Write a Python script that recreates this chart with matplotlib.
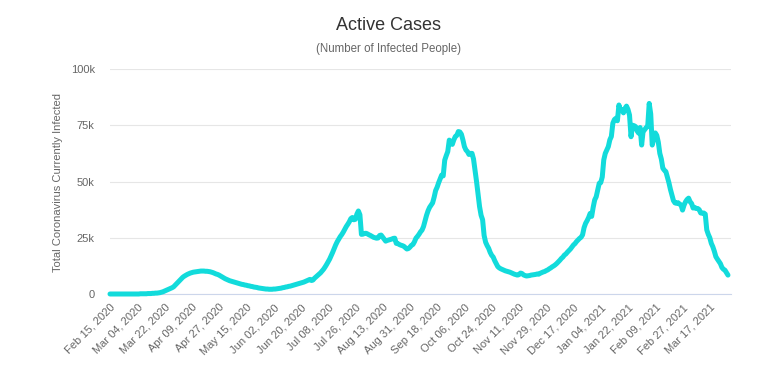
import numpy as np
import pandas as pd
import matplotlib
matplotlib.use("Agg")
import matplotlib.pyplot as plt
from matplotlib.ticker import FuncFormatter, FixedLocator

plt.rcParams['font.family'] = ['Liberation Sans', 'DejaVu Sans']

start_date = "2020-02-15"
tick_step = 18

# Active cases in thousands, one value per day from Feb 15, 2020
active_k = [
    # d0-19
    0.0, 0.0, 0.0, 0.0, 0.0, 0.0, 0.0, 0.0, 0.0, 0.0,
    0.0, 0.0, 0.0, 0.0, 0.0, 0.0, 0.0, 0.0, 0.0, 0.0,
    # d20-32
    0.1, 0.1, 0.1, 0.1, 0.1, 0.2, 0.2, 0.2, 0.3, 0.3, 0.4, 0.4, 0.5,
    # d33-65
    0.6, 0.8, 1.0, 1.3, 1.6, 1.9, 2.2, 2.5, 2.8, 3.2,
    3.9, 4.6, 5.3, 6.0, 6.7, 7.4, 7.9, 8.3, 8.7, 9.0,
    9.3, 9.5, 9.7, 9.8, 9.9, 10.0, 10.1, 10.2, 10.2, 10.2,
    10.1, 10.1, 10.0,
    # d66-104
    9.9, 9.7, 9.5, 9.2, 8.9, 8.7, 8.4, 8.0, 7.6, 7.2,
    6.8, 6.5, 6.2, 5.9, 5.7, 5.5, 5.3, 5.1, 4.9, 4.7,
    4.5, 4.3, 4.2, 4.0, 3.9, 3.7, 3.6, 3.4, 3.3, 3.1,
    3.0, 2.9, 2.7, 2.6, 2.5, 2.4, 2.3, 2.2, 2.2,
    # d105-166
    2.1, 2.1, 2.1, 2.2, 2.2, 2.3, 2.4, 2.5, 2.6, 2.8,
    2.9, 3.1, 3.2, 3.4, 3.5, 3.7, 3.9, 4.1, 4.3, 4.5,
    4.7, 4.9, 5.1, 5.3, 5.6, 5.9, 6.2, 6.5, 6.0, 6.2,
    7.0, 7.6, 8.2, 8.8, 9.4, 10.2, 11.0, 12.0, 13.1, 14.3,
    15.5, 17.0, 18.5, 20.2, 21.8, 23.2, 24.4, 25.5, 26.4, 27.5,
    28.8, 30.0, 31.0, 32.1, 33.5, 34.0, 33.0, 33.2, 35.5, 36.9,
    35.2, 26.5,
    # d167-253
    26.6, 26.9, 27.0, 26.7, 26.3, 26.0, 25.6, 25.2, 25.0, 24.8,
    24.9, 26.0, 26.2, 25.3, 24.4, 23.5, 23.8, 24.0, 24.2, 24.4,
    24.7, 24.8, 22.5, 22.4, 22.0, 21.7, 21.5, 21.2, 20.6, 20.0,
    20.2, 20.8, 21.6, 22.0, 23.2, 24.8, 25.6, 26.5, 27.6, 28.4,
    30.0, 32.5, 35.0, 37.0, 38.5, 39.5, 40.5, 43.0, 46.0, 47.5,
    49.5, 51.2, 52.9, 52.5, 59.5, 61.5, 63.3, 68.4, 67.5, 66.5,
    68.5, 70.0, 70.5, 72.2, 72.0, 71.0, 68.5, 65.5, 64.0, 63.3,
    62.0, 62.5, 62.5, 60.0, 55.0, 50.0, 44.5, 38.8, 35.0, 33.0,
    26.0, 23.0, 21.5, 20.3, 18.5, 17.2, 16.4,
    # d254-320
    14.8, 13.5, 12.2, 11.6, 11.2, 10.9, 10.6, 10.3, 10.1, 9.9,
    9.7, 9.4, 9.1, 8.8, 8.6, 8.4, 8.6, 9.3, 9.1, 8.5,
    8.2, 8.0, 8.1, 8.2, 8.4, 8.5, 8.6, 8.7, 8.9, 8.8,
    9.2, 9.5, 9.8, 10.0, 10.4, 10.7, 11.2, 11.6, 12.1, 12.5,
    13.0, 13.6, 14.3, 15.0, 15.8, 16.4, 17.3, 17.8, 18.6, 19.3,
    20.0, 20.9, 21.8, 22.4, 23.3, 24.0, 24.7, 25.2, 26.3, 29.5,
    31.4, 32.6, 34.0, 35.8, 34.5, 38.5, 41.8,
    # d321-408
    43.2, 46.2, 49.2, 49.5, 52.0, 59.6, 62.5, 64.0, 65.5, 68.5,
    70.0, 75.9, 77.5, 78.1, 77.0, 84.0, 81.5, 82.0, 80.5, 82.5,
    83.5, 82.0, 79.5, 69.9, 75.0, 74.8, 74.4, 72.5, 71.5, 74.0,
    66.2, 72.5, 73.0, 74.0, 74.4, 84.7, 80.0, 66.2, 69.0, 71.6,
    70.5, 67.5, 62.5, 60.0, 55.9, 55.0, 54.4, 52.0, 49.5, 46.5,
    44.0, 41.5, 40.5, 40.3, 40.6, 40.0, 39.6, 37.3, 39.5, 41.0,
    42.0, 42.6, 41.0, 40.2, 38.2, 38.5, 38.0, 38.0, 37.5, 36.0,
    35.9, 36.0, 35.5, 28.5, 26.5, 25.0, 22.5, 21.0, 19.0, 16.6,
    15.5, 14.5, 13.5, 11.8, 11.0, 10.6, 9.5, 8.4,
]
print("n points:", len(active_k))

dates = pd.date_range(start_date, periods=len(active_k), freq="D")
date_labels = [d.strftime("%b %d, %Y") for d in dates]
values = np.array(active_k) * 1000
idx = np.arange(len(values))

W, H = 778, 365
fig = plt.figure(figsize=(W / 100, H / 100), dpi=100)
ax = fig.add_axes([110 / W, (H - 294) / H, 621 / W, 225 / H])

ax.plot(idx, values, color="#12dbdb", lw=3.6, solid_joinstyle="round",
        solid_capstyle="round", zorder=3, clip_on=False)

ax.set_xlim(0, 410)
ax.set_ylim(0, 100000)
ax.yaxis.set_major_locator(FixedLocator([0, 25000, 50000, 75000, 100000]))
ax.yaxis.set_major_formatter(FuncFormatter(lambda v, p: "0" if v == 0 else f"{int(v/1000)}k"))

tick_idx = list(range(0, len(values), tick_step))
ax.set_xticks(tick_idx)
ax.set_xticklabels([date_labels[i] for i in tick_idx], rotation=45,
                   ha="right", va="top", rotation_mode="anchor")

ax.grid(axis="y", color="#e6e6e6", lw=0.8)
ax.set_axisbelow(True)
for s in ["top", "right", "left"]:
    ax.spines[s].set_visible(False)
ax.spines["bottom"].set_color("#ccd6eb")
ax.spines["bottom"].set_linewidth(0.8)
ax.tick_params(axis="y", length=0, pad=11, labelsize=8, labelcolor="#666666")
ax.tick_params(axis="x", length=0, pad=6, labelsize=8, labelcolor="#666666")

fig.text(389 / W, 1 - 26 / H, "Active Cases", ha="center", va="center",
         fontsize=13, color="#333333")
fig.text(389 / W, 1 - 49 / H, "(Number of Infected People)", ha="center",
         va="center", fontsize=8.3, color="#666666")
fig.text(58 / W, 1 - 182 / H, "Total Coronavirus Currently Infected",
         rotation=90, ha="center", va="center", fontsize=8, color="#666666")

fig.savefig("out.png", dpi=100)
